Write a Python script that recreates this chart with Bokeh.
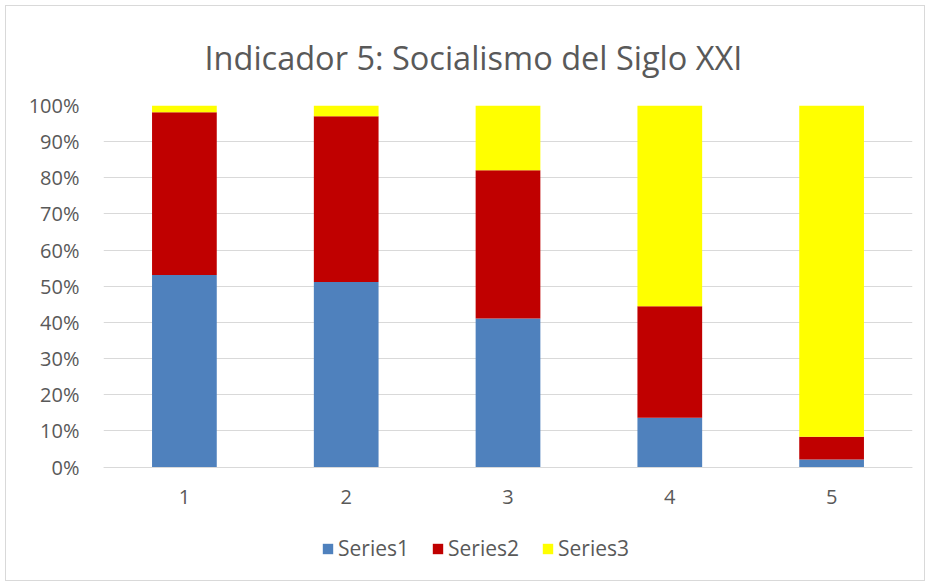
from bokeh.plotting import figure
from bokeh.models import ColumnDataSource, Legend, LegendItem, NumeralTickFormatter, FixedTicker, Title
from bokeh.embed import file_html
from bokeh.resources import INLINE

categories = ["1", "2", "3", "4", "5"]
series1 = [53.1, 51.2, 41.1, 13.6, 2.1]
series2 = [45.0, 45.8, 41.0, 30.9, 6.3]
series3 = [1.9, 3.0, 17.9, 55.5, 91.6]
series_names = ["Series1", "Series2", "Series3"]
colors = ["#4F81BD", "#C00000", "#FFFF00"]
y_ticks = [0, 10, 20, 30, 40, 50, 60, 70, 80, 90, 100]

FONT = "Open Sans"
TXT = "#595959"

# frame extends below 0 so the legend can sit inside it (layout only)
Y_BOTTOM = 1 - 471 / 360

src = ColumnDataSource(dict(cat=categories,
                            Series1=[v / 100 for v in series1],
                            Series2=[v / 100 for v in series2],
                            Series3=[v / 100 for v in series3]))

p = figure(x_range=categories, y_range=(Y_BOTTOM, 1), width=920, height=576,
           output_backend="svg", toolbar_location=None,
           min_border_left=97, min_border_right=14, min_border_top=99, min_border_bottom=4)
p.margin = (5, 0, 0, 5)

renderers = p.vbar_stack(series_names, x="cat", width=0.4, color=colors, source=src, line_color=None)

p.title = Title(text="Indicador 5: Socialismo del Siglo XXI", text_font=FONT, text_font_size="32.5px",
                text_font_style="normal", text_color=TXT, align="left", standoff=52, offset=101)

p.outline_line_color = None
p.border_fill_color = "white"
p.styles = {"border": "1px solid #d9d9d9"}

p.yaxis.ticker = FixedTicker(ticks=[t / 100 for t in y_ticks])
p.yaxis.formatter = NumeralTickFormatter(format="0%")
p.yaxis.axis_line_color = None
p.yaxis.major_tick_line_color = None
p.yaxis.minor_tick_line_color = None
p.yaxis.major_label_text_font = FONT
p.yaxis.major_label_text_font_size = "20px"
p.yaxis.major_label_text_color = TXT
p.yaxis.major_label_standoff = 18

p.xaxis.fixed_location = 0
p.xaxis.axis_line_color = "#d9d9d9"
p.xaxis.major_tick_line_color = None
p.xaxis.minor_tick_line_color = None
p.xaxis.major_label_text_font = FONT
p.xaxis.major_label_text_font_size = "20px"
p.xaxis.major_label_text_color = TXT
p.xaxis.major_label_standoff = 17

p.xgrid.grid_line_color = None
p.ygrid.grid_line_color = "#d9d9d9"
p.ygrid.ticker = FixedTicker(ticks=[t / 100 for t in y_ticks])

legend = Legend(items=[LegendItem(label=n, renderers=[r]) for n, r in zip(series_names, renderers)],
                orientation="horizontal", location=(218, 16),
                label_text_font=FONT, label_text_font_size="21px", label_text_color=TXT,
                glyph_width=13, glyph_height=13, spacing=22, label_standoff=4,
                border_line_color=None, background_fill_alpha=0, margin=0, padding=0)
p.add_layout(legend, "center")

open("out.html", "w").write(file_html(p, INLINE))
